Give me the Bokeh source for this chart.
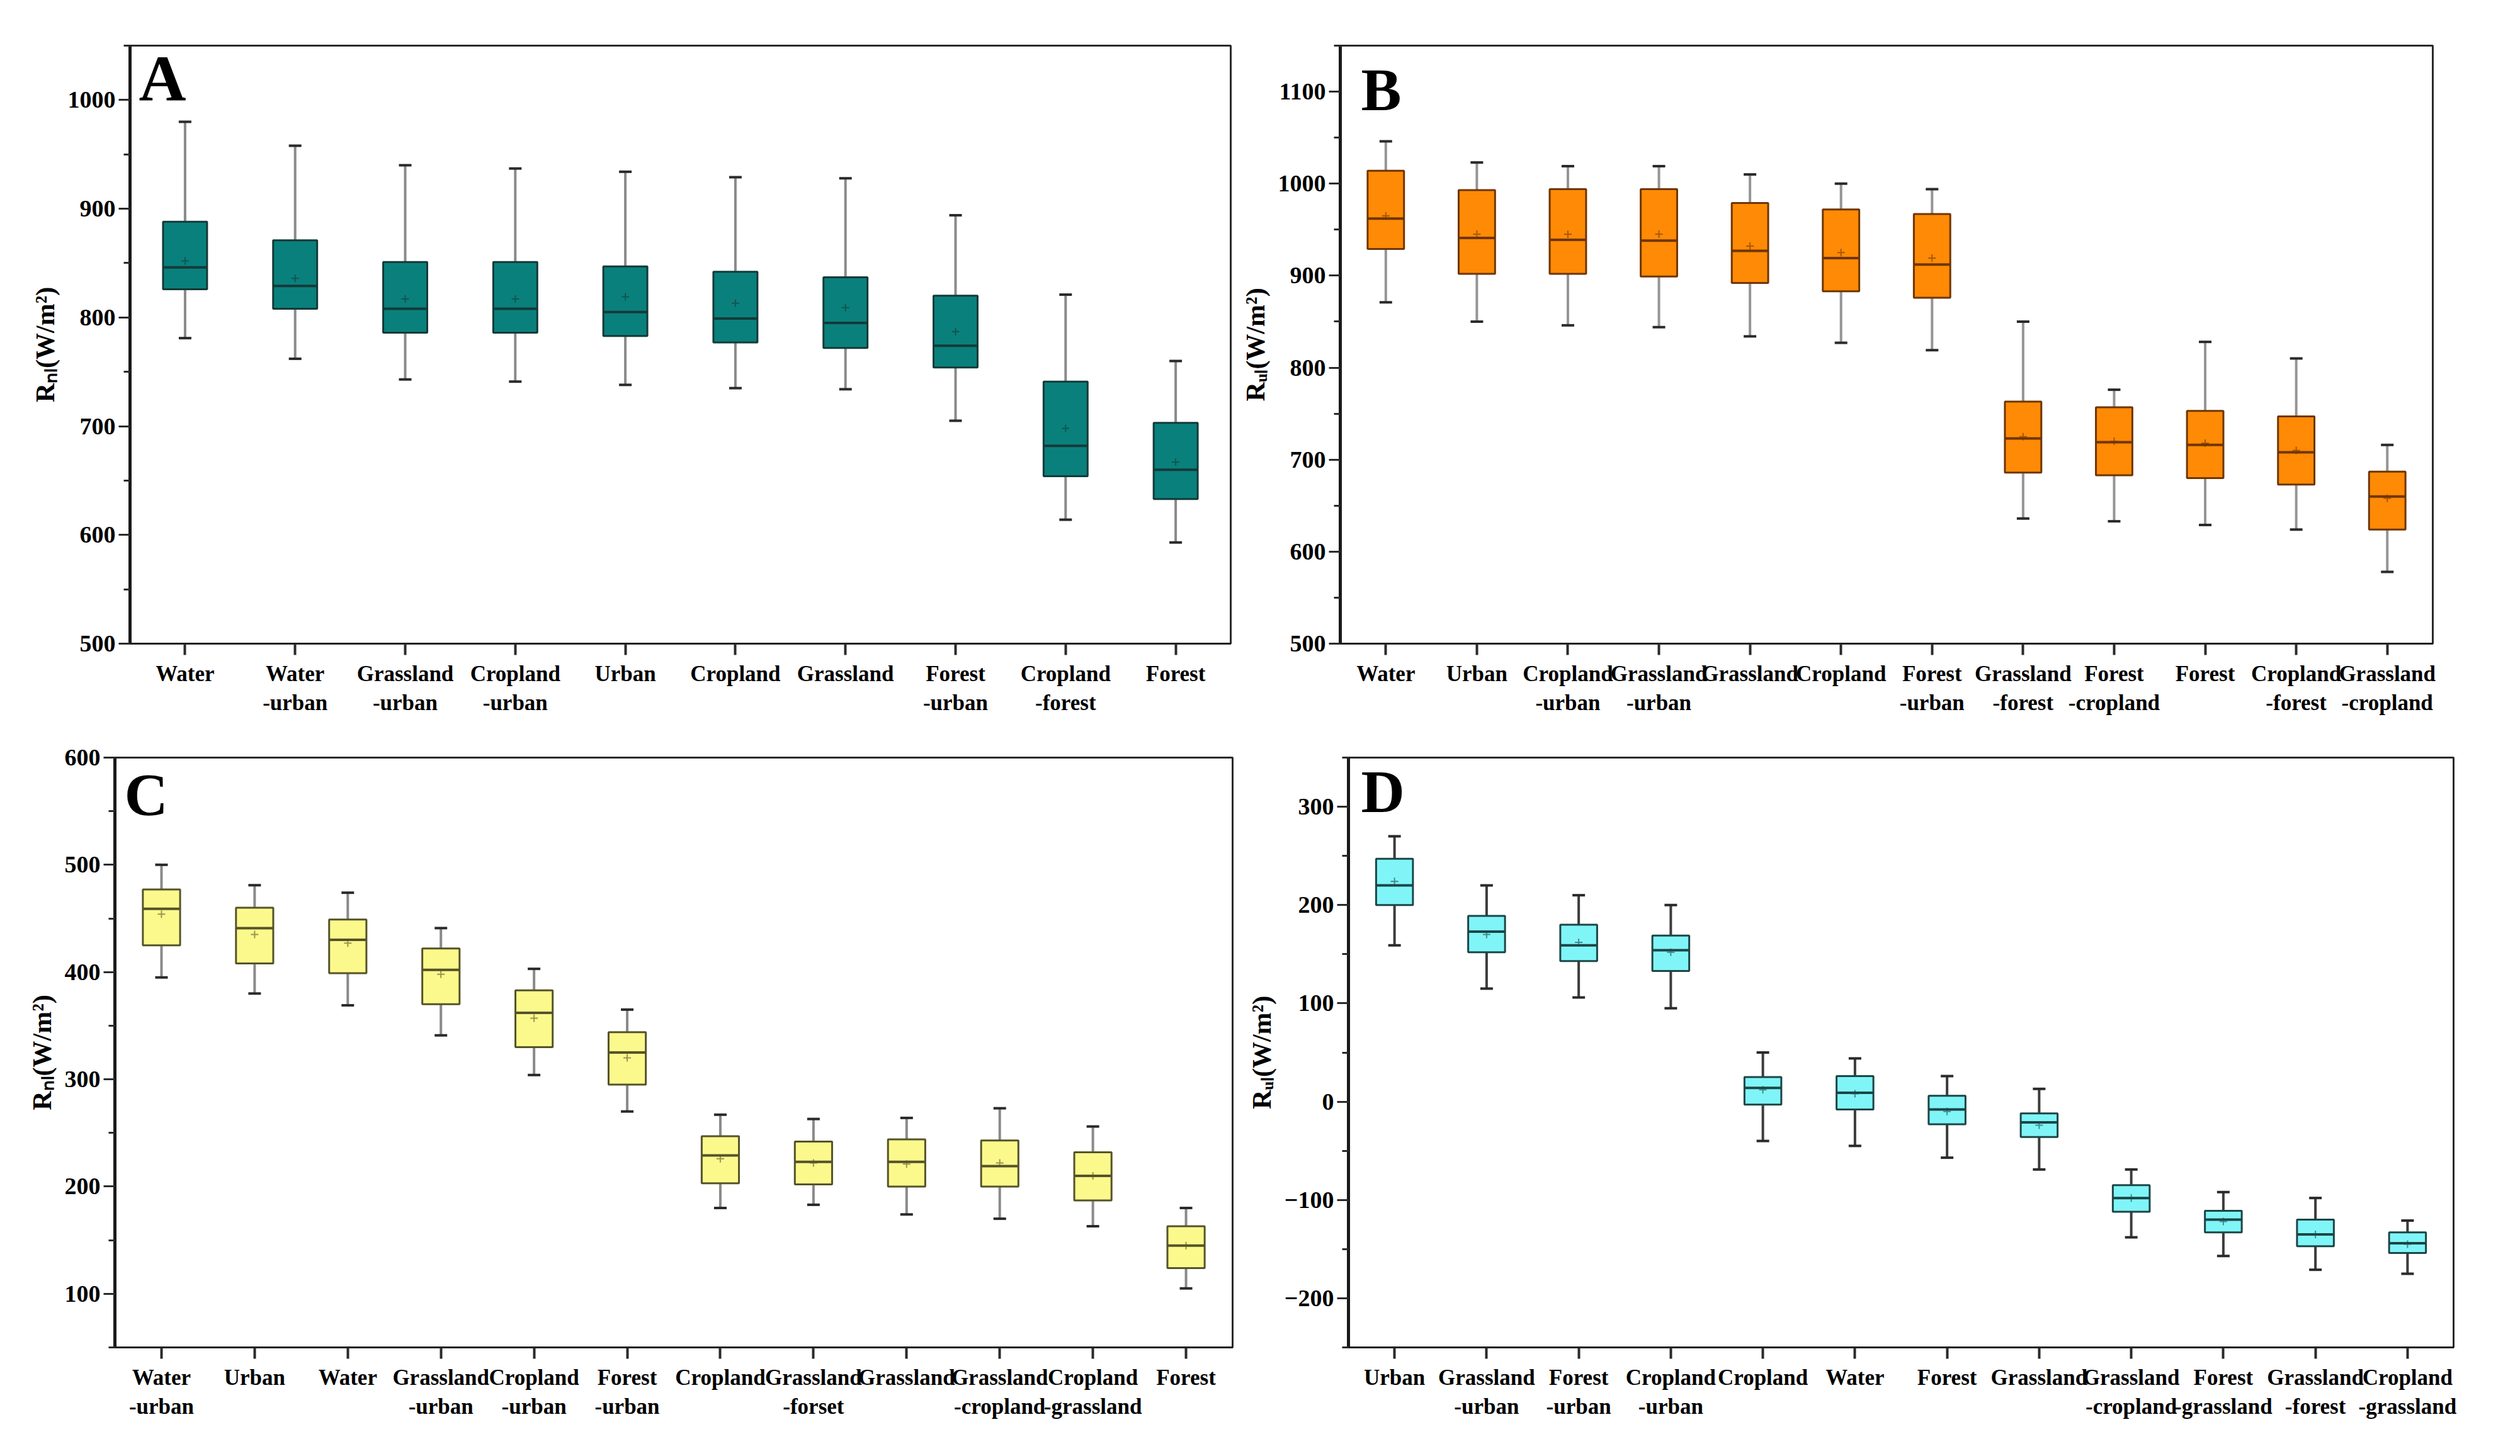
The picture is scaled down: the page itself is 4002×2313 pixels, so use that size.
from bokeh.plotting import figure
from bokeh.models import Range1d, FixedTicker, SingleIntervalTicker, Label
from bokeh.layouts import column, row
from bokeh.embed import file_html
from bokeh.resources import INLINE

# ---------------- data ----------------
A_cats = ["Water", "Water\n-urban", "Grassland\n-urban", "Cropland\n-urban", "Urban",
          "Cropland", "Grassland", "Forest\n-urban", "Cropland\n-forest", "Forest"]
A_high = [980, 958, 940, 937, 934, 929, 928, 894, 821, 760]
A_q3 = [888, 871, 851, 851, 847, 842, 837, 820, 741, 703]
A_med = [846, 829, 808, 808, 805, 799, 795, 774, 682, 660]
A_q1 = [826, 808, 786, 786, 783, 777, 772, 754, 654, 633]
A_low = [781, 762, 743, 741, 738, 735, 734, 705, 614, 593]
A_mean = [852, 836, 817, 817, 819, 813, 809, 787, 698, 667]

B_cats = ["Water", "Urban", "Cropland\n-urban", "Grassland\n-urban", "Grassland", "Cropland",
          "Forest\n-urban", "Grassland\n-forest", "Forest\n-cropland", "Forest",
          "Cropland\n-forest", "Grassland\n-cropland"]
B_high = [1046, 1023, 1019, 1019, 1010, 1000, 994, 850, 776, 828, 810, 716]
B_q3 = [1014, 993, 994, 994, 979, 972, 967, 763, 757, 753, 747, 687]
B_med = [962, 941, 939, 938, 927, 919, 912, 723, 719, 716, 708, 660]
B_q1 = [929, 902, 902, 899, 892, 883, 876, 686, 683, 680, 673, 624]
B_low = [871, 850, 846, 844, 834, 827, 819, 636, 633, 629, 624, 578]
B_mean = [965, 945, 945, 945, 932, 925, 919, 725, 720, 718, 710, 658]

C_cats = ["Water\n-urban", "Urban", "Water", "Grassland\n-urban", "Cropland\n-urban",
          "Forest\n-urban", "Cropland", "Grassland\n-forset", "Grassland",
          "Grassland\n-cropland", "Cropland\n-grassland", "Forest"]
C_high = [500, 481, 474, 441, 403, 365, 267, 263, 264, 273, 256, 180]
C_q3 = [477, 460, 449, 422, 383, 344, 247, 242, 244, 243, 232, 163]
C_med = [459, 441, 430, 402, 362, 325, 229, 223, 223, 219, 210, 145]
C_q1 = [425, 408, 399, 370, 330, 295, 203, 202, 200, 200, 187, 124]
C_low = [395, 380, 369, 341, 304, 270, 180, 183, 174, 170, 163, 105]
C_mean = [454, 435, 427, 398, 357, 320, 226, 222, 221, 222, 210, 145]

D_cats = ["Urban", "Grassland\n-urban", "Forest\n-urban", "Cropland\n-urban", "Cropland",
          "Water", "Forest", "Grassland", "Grassland\n-cropland", "Forest\n-grassland",
          "Grassland\n-forest", "Cropland\n-grassland"]
D_high = [270, 220, 210, 200, 50, 44, 26, 13, -69, -92, -98, -121]
D_q3 = [247, 189, 180, 169, 25, 26, 6, -12, -85, -111, -120, -133]
D_med = [220, 173, 159, 154, 14, 9, -8, -21, -98, -120, -135, -144]
D_q1 = [200, 152, 143, 133, -3, -8, -23, -36, -112, -133, -147, -154]
D_low = [159, 115, 106, 95, -40, -45, -57, -69, -138, -157, -171, -175]
D_mean = [224, 170, 162, 152, 12, 8, -10, -24, -98, -122, -135, -145]

FONT = "Liberation Serif"


def panel(letter, cats, low, q1, med, q3, high, mean, yr, ylabel, fill, edge, stem,
          size, borders, letter_font, letter_off):
    n = len(cats)
    x = list(range(1, n + 1))
    p = figure(width=size[0], height=size[1], x_range=Range1d(0.5, n + 0.5),
               y_range=Range1d(*yr), output_backend="svg", toolbar_location=None,
               min_border_left=borders[0], min_border_right=borders[1],
               min_border_top=borders[2], min_border_bottom=borders[3])
    p.grid.visible = False
    p.outline_line_color = "#2a2a2a"
    p.outline_line_width = 3
    p.background_fill_color = "white"
    p.border_fill_color = "white"

    # whiskers
    p.segment(x0=x, y0=q3, x1=x, y1=high, line_color=stem, line_width=4)
    p.segment(x0=x, y0=low, x1=x, y1=q1, line_color=stem, line_width=4)
    p.scatter(x=x, y=high, marker="dash", size=20, line_color="#2a2a2a", line_width=4)
    p.scatter(x=x, y=low, marker="dash", size=20, line_color="#2a2a2a", line_width=4)
    # boxes
    bw = 0.4
    p.vbar(x=x, bottom=q1, top=q3, width=bw, fill_color=fill, line_color=edge, line_width=3)
    p.segment(x0=[i - bw / 2 for i in x], y0=med, x1=[i + bw / 2 for i in x], y1=med,
              line_color=edge, line_width=4)
    p.scatter(x=x, y=mean, marker="cross", size=12, line_color=edge, line_width=2, line_alpha=0.6)

    # x axis
    xa = p.xaxis[0]
    xa.ticker = FixedTicker(ticks=x)
    xa.major_label_overrides = {i: c for i, c in zip(x, cats)}
    xa.minor_tick_line_color = None
    xa.major_tick_out = 18
    xa.major_tick_in = 0
    xa.major_tick_line_width = 4
    xa.major_tick_line_color = "#2a2a2a"
    xa.axis_line_width = 3
    xa.axis_line_color = "#1a1a1a"
    xa.major_label_text_font = FONT
    xa.major_label_text_font_style = "bold"
    xa.major_label_text_font_size = "35px"
    xa.major_label_text_color = "black"
    xa.major_label_standoff = 10

    # y axis
    ya = p.yaxis[0]
    ya.ticker = SingleIntervalTicker(interval=100, num_minor_ticks=2)
    ya.major_tick_out = 18
    ya.major_tick_in = 0
    ya.minor_tick_out = 10
    ya.minor_tick_in = 0
    ya.major_tick_line_width = 3
    ya.minor_tick_line_width = 3
    ya.major_tick_line_color = "#2a2a2a"
    ya.minor_tick_line_color = "#2a2a2a"
    ya.axis_line_width = 5
    ya.axis_line_color = "#1a1a1a"
    ya.major_label_text_font = FONT
    ya.major_label_text_font_style = "bold"
    ya.major_label_text_font_size = "38px"
    ya.major_label_text_color = "black"
    ya.major_label_standoff = 5
    ya.axis_label = ylabel
    ya.axis_label_text_font = FONT
    ya.axis_label_text_font_style = "bold"
    ya.axis_label_text_font_size = "42px"
    ya.axis_label_text_color = "black"
    ya.axis_label_standoff = 10

    p.add_layout(Label(x=0.5, y=yr[1], x_offset=letter_off[0], y_offset=letter_off[1],
                       text=letter, text_font=FONT, text_font_style="bold",
                       text_font_size=letter_font, text_baseline="top", text_color="black"))
    return p


pA = panel("A", A_cats, A_low, A_q1, A_med, A_q3, A_high, A_mean, (500, 1050),
           "R\u2099\u2097(W/m\u00b2)", "#0a807c", "#143a38", "#8a8a8a",
           (1967, 1146), (206, 13, 63, 117), "104px", (14, 6))
pB = panel("B", B_cats, B_low, B_q1, B_med, B_q3, B_high, B_mean, (500, 1150),
           "R\u1d64\u2097(W/m\u00b2)", "#ff8a05", "#6e3505", "#959595",
           (2019, 1146), (156, 123, 72, 124), "96px", (33, -16))
pC = panel("C", C_cats, C_low, C_q1, C_med, C_q3, C_high, C_mean, (50, 600),
           "R\u2099\u2097(W/m\u00b2)", "#fcf98c", "#55532a", "#8a8a8a",
           (1977, 1148), (182, 20, 57, 151), "96px", (15, -5))
pD = panel("D", D_cats, D_low, D_q1, D_med, D_q3, D_high, D_mean, (-250, 350),
           "R\u1d64\u2097(W/m\u00b2)", "#80f5f8", "#1d4545", "#3c3c3c",
           (2009, 1148), (164, 90, 49, 154), "96px", (20, 0))

layout = column(row(pA, pB), row(pC, pD))
open("out.html", "w").write(file_html(layout, INLINE))
